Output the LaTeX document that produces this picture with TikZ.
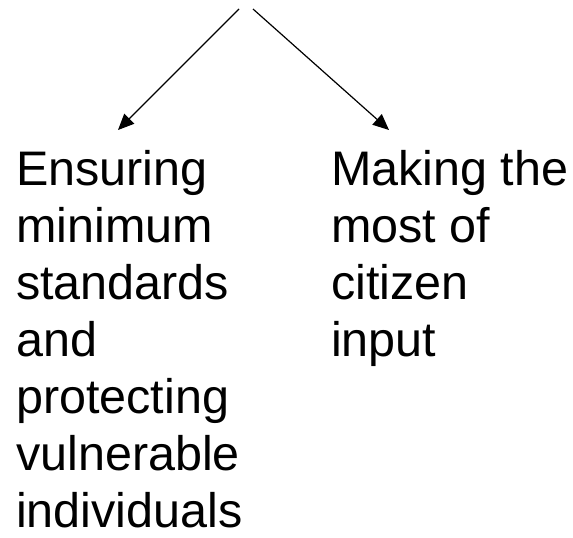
\documentclass[tikz,border=0pt]{standalone}
\usepackage{fontspec}
\setmainfont{Liberation Sans}
\usetikzlibrary{arrows.meta}
\begin{document}
\begin{tikzpicture}[x=1pt,y=-1pt,
  conn/.style={line width=1.2pt,-{Triangle[length=16pt,width=14pt]}},
  txt/.style={anchor=base west,align=left,inner sep=0pt,font=\fontsize{48.5}{57}\selectfont}]
\useasboundingbox (0,0) rectangle (573,538);
\coordinate (s1) at (239,9);
\coordinate (s2) at (253,9);
\coordinate (t1) at (118,130);
\coordinate (t2) at (389,130);
\node[txt] (left) at (16,527) {Ensuring\\minimum\\standards\\and\\protecting\\vulnerable\\individuals};
\node[txt] (right) at (331,356) {Making the\\most of\\citizen\\input};
\draw[conn] (s1) -- (t1);
\draw[conn] (s2) -- (t2);
\end{tikzpicture}
\end{document}
